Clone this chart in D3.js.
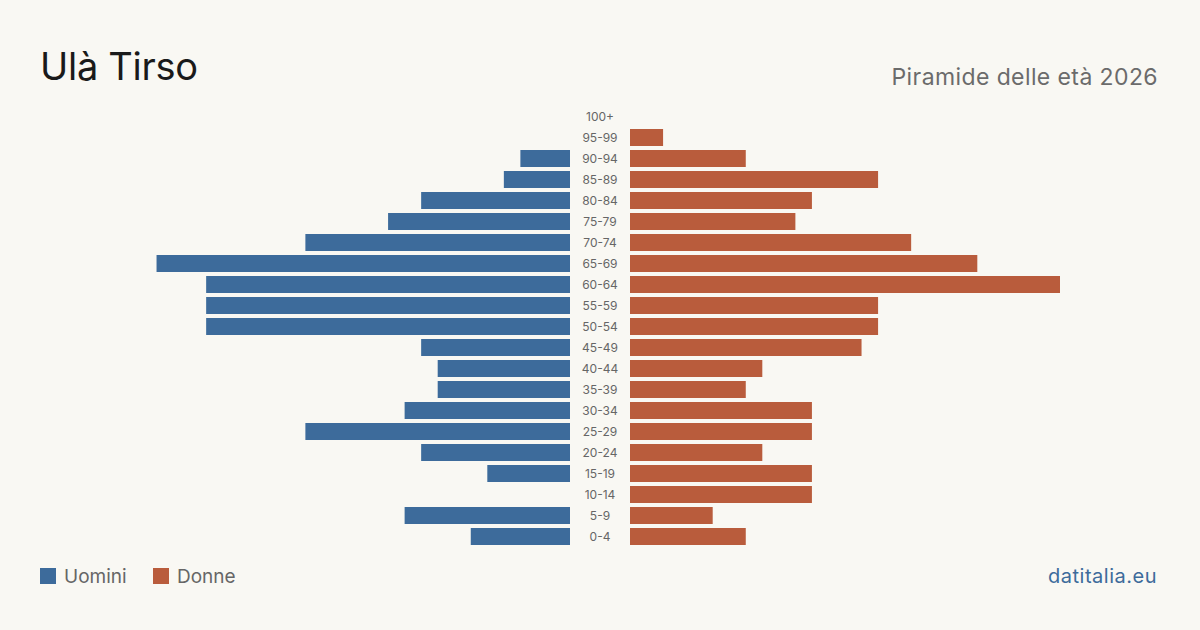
<!DOCTYPE html>
<html lang="it">
<head>
<meta charset="UTF-8"/>
<title>Ulà Tirso - Piramide delle età 2026</title>
<script src="https://d3js.org/d3.v7.min.js"></script>
<style>
  body { margin: 0; background: #f9f8f3; }
  svg { display: block; font-family: Inter, "Noto Sans", sans-serif; }
</style>
</head>
<body>
<script>
    // fasce di età, dall'alto verso il basso
    var ageGroups = ["100+", "95-99", "90-94", "85-89", "80-84", "75-79", "70-74", "65-69",
                     "60-64", "55-59", "50-54", "45-49", "40-44", "35-39", "30-34", "25-29",
                     "20-24", "15-19", "10-14", "5-9", "0-4"];
    var uomini = [0, 0, 3, 4, 9, 11, 16, 25, 22, 22, 22, 9, 8, 8, 10, 16, 9, 5, 0, 10, 6];
    var donne  = [0, 2, 7, 15, 11, 10, 17, 21, 26, 15, 15, 14, 8, 7, 11, 11, 8, 11, 11, 5, 7];

    var w = 1200, h = 630;
    var centerL = 570, centerR = 630;
    var maxBar = 430;

    var svg = d3.select("body")
                .append("svg")
                .attr("width", w)
                .attr("height", h);

    svg.append("rect")
       .attr("width", w)
       .attr("height", h)
       .attr("fill", "#f9f8f3");

    var yScale = d3.scaleBand()
                   .domain(ageGroups)
                   .range([106, 547])
                   .paddingInner(4 / 21)
                   .paddingOuter(2 / 21);

    var xScale = d3.scaleLinear()
                   .domain([0, d3.max(uomini.concat(donne))])
                   .range([0, maxBar]);

    // uomini (a sinistra)
    svg.append("g")
       .selectAll("rect")
       .data(uomini)
       .enter()
       .append("rect")
       .attr("x", function(d) { return centerL - xScale(d); })
       .attr("y", function(d, i) { return yScale(ageGroups[i]); })
       .attr("width", function(d) { return xScale(d); })
       .attr("height", yScale.bandwidth())
       .attr("fill", "#3d6b9b");

    // donne (a destra)
    svg.append("g")
       .selectAll("rect")
       .data(donne)
       .enter()
       .append("rect")
       .attr("x", centerR)
       .attr("y", function(d, i) { return yScale(ageGroups[i]); })
       .attr("width", function(d) { return xScale(d); })
       .attr("height", yScale.bandwidth())
       .attr("fill", "#b95c3c");

    // etichette delle fasce
    svg.append("g")
       .selectAll("text")
       .data(ageGroups)
       .enter()
       .append("text")
       .attr("x", 600)
       .attr("y", function(d) { return yScale(d) + yScale.bandwidth() / 2; })
       .attr("dy", "0.35em")
       .attr("text-anchor", "middle")
       .attr("font-size", 12)
       .attr("fill", "#666")
       .text(function(d) { return d; });

    // titolo e sottotitolo
    svg.append("text")
       .attr("x", 40)
       .attr("y", 80)
       .attr("font-size", 38)
       .attr("letter-spacing", -0.3)
       .attr("fill", "#1a1a1a")
       .text("Ulà Tirso");

    svg.append("text")
       .attr("x", 1158)
       .attr("y", 85)
       .attr("text-anchor", "end")
       .attr("font-size", 23)
       .attr("letter-spacing", 0.4)
       .attr("fill", "#6b6b6b")
       .text("Piramide delle età 2026");

    // legenda
    var legend = [{ label: "Uomini", color: "#3d6b9b", x: 40 },
                  { label: "Donne", color: "#b95c3c", x: 153 }];

    var lg = svg.append("g")
                .selectAll("g")
                .data(legend)
                .enter()
                .append("g")
                .attr("transform", function(d) { return "translate(" + d.x + ",568)"; });

    lg.append("rect")
      .attr("width", 16)
      .attr("height", 16)
      .attr("fill", function(d) { return d.color; });

    lg.append("text")
      .attr("x", 24)
      .attr("y", 15)
      .attr("font-size", 19)
      .attr("fill", "#666")
      .text(function(d) { return d.label; });

    svg.append("text")
       .attr("x", 1157)
       .attr("y", 583)
       .attr("text-anchor", "end")
       .attr("font-size", 20)
       .attr("letter-spacing", 0.5)
       .attr("fill", "#3d6b9b")
       .text("datitalia.eu");
</script>
</body>
</html>
